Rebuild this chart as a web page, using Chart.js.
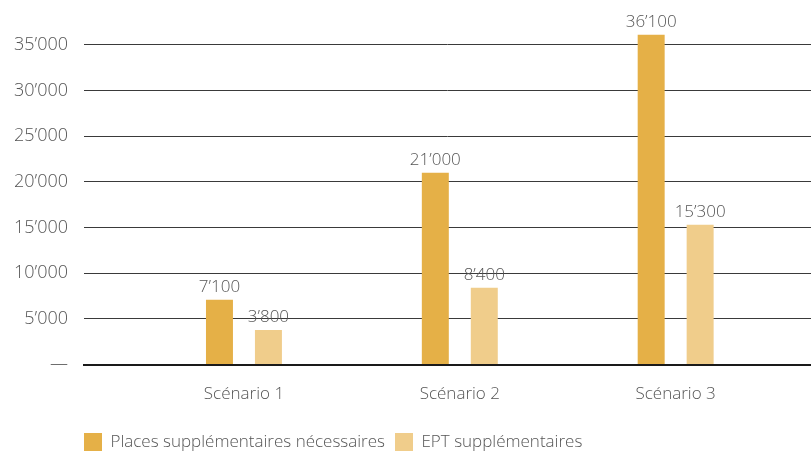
<!DOCTYPE html>
<html>
<head>
<meta charset="utf-8">
<script src="https://cdn.jsdelivr.net/npm/chart.js@4/dist/chart.umd.min.js"></script>
<style>
  html, body { margin: 0; padding: 0; background: #fff; }
  #wrap { width: 811px; height: 453px; position: relative; }
</style>
</head>
<body>
<div id="wrap"><canvas id="myChart"></canvas></div>
<script>
// data
const scenarios = ['Scénario 1', 'Scénario 2', 'Scénario 3'];
const places = [7100, 21000, 36100];
const ept = [3800, 8400, 15300];
const seriesNames = ['Places supplémentaires nécessaires', 'EPT supplémentaires'];
const yTicks = [0, 5000, 10000, 15000, 20000, 25000, 30000, 35000];

const darkGold = '#e5b047';
const lightGold = '#f0cd8b';
const textGrey = '#555555';
const font = "'Open Sans', 'Noto Sans', sans-serif";

function fmt(n) {
  if (n === 0) return '—';
  return String(n).replace(/\B(?=(\d{3})+(?!\d))/g, '\u2019');
}

// value labels above each bar
const barLabels = {
  id: 'barLabels',
  afterDatasetsDraw(chart) {
    const ctx = chart.ctx;
    ctx.save();
    ctx.font = '300 17px ' + font;
    ctx.fillStyle = textGrey;
    ctx.textAlign = 'center';
    ctx.textBaseline = 'alphabetic';
    chart.data.datasets.forEach((ds, i) => {
      chart.getDatasetMeta(i).data.forEach((bar, j) => {
        ctx.fillText(fmt(ds.data[j].y), bar.x, bar.y - 8);
      });
    });
    ctx.restore();
  }
};

// line the legend up with the plot's left edge and push it down a bit
const legendShift = {
  id: 'legendShift',
  afterLayout(chart) {
    const lg = chart.legend;
    lg.left -= 10;
    lg.right -= 10;
    lg.top += 8;
    lg.bottom += 8;
  }
};

const ctx = document.getElementById('myChart').getContext('2d');
new Chart(ctx, {
  type: 'bar',
  data: {
    datasets: [
      {
        label: seriesNames[0],
        data: places.map((v, i) => ({ x: i, y: v })),
        backgroundColor: darkGold
      },
      {
        label: seriesNames[1],
        data: ept.map((v, i) => ({ x: i, y: v })),
        backgroundColor: lightGold
      }
    ]
  },
  options: {
    responsive: true,
    maintainAspectRatio: false,
    animation: false,
    categoryPercentage: 0.4537,
    barPercentage: 0.551,
    plugins: {
      tooltip: { enabled: false },
      legend: {
        position: 'bottom',
        align: 'start',
        fullSize: false,
        labels: {
          boxWidth: 18,
          boxHeight: 18,
          padding: 10,
          color: textGrey,
          font: { family: font, size: 17, weight: 300 }
        }
      }
    },
    scales: {
      x: {
        type: 'linear',
        offset: false,
        min: -0.741,
        max: 2.627,
        afterBuildTicks(axis) {
          axis.ticks = scenarios.map((s, i) => ({ value: i }));
        },
        ticks: {
          padding: 11,
          color: textGrey,
          font: { family: font, size: 17, weight: 300 },
          callback: (v) => scenarios[v]
        },
        grid: { display: false },
        border: { color: '#1a1a1a', width: 2 }
      },
      y: {
        min: 0,
        max: 36970,
        afterBuildTicks(axis) {
          axis.ticks = yTicks.map(v => ({ value: v }));
        },
        afterFit(axis) { axis.width = 84; },
        ticks: {
          padding: 16,
          color: textGrey,
          font: { family: font, size: 18, weight: 300 },
          callback: (v) => fmt(v)
        },
        grid: { color: '#3a3a3a', lineWidth: 1, drawTicks: false },
        border: { display: false }
      }
    }
  },
  plugins: [barLabels, legendShift]
});
</script>
</body>
</html>
